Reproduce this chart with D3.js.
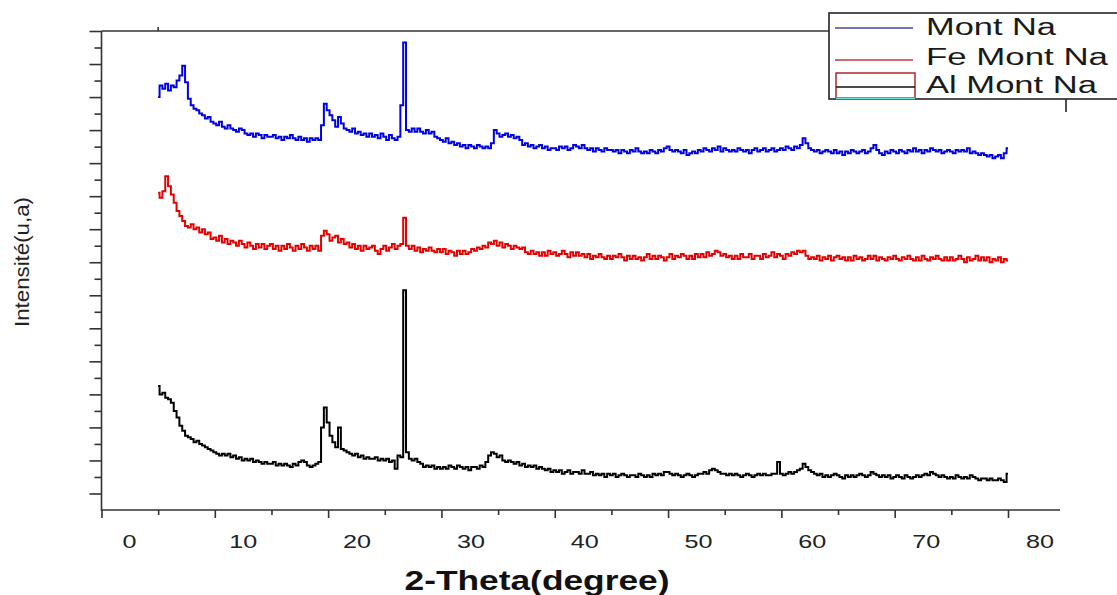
<!DOCTYPE html>
<html><head><meta charset="utf-8">
<script src="https://cdn.jsdelivr.net/npm/d3@7"></script>
<style>body{margin:0;background:#fff}svg{display:block}</style>
</head><body><svg id="c" width="1117" height="595"></svg>
<script>
// 2-theta grid of the measurement (degrees)
const twoThetaStart = 5, twoThetaStep = 0.25;
// intensities (a.u.), one value per 0.25 deg step from 5 to 80 deg
const montNa = [
250,257,255,258, 254,257,256,260, 263,269,259,249, 245,243,242,240, 239,237,238,235,
234,233,235,232, 231,233,231,230, 229,231,230,228, 227,228,226,228, 227,225,227,226,
226,227,225,226, 224,226,225,227, 225,224,226,224, 225,223,225,224, 225,224,233,246,
242,239,236,232, 238,234,231,230, 229,231,228,229, 227,228,226,228, 226,227,225,228,
226,224,227,225, 224,226,245,283, 230,229,231,229, 231,229,228,230, 228,229,226,225,
224,223,225,222, 223,221,222,220, 221,219,221,220, 219,221,220,219, 220,219,222,230,
228,226,227,228, 226,227,225,226, 224,221,222,220, 221,219,220,221, 219,220,218,219,
219,218,220,219, 220,218,219,221, 220,219,221,219, 218,219,217,219, 218,217,219,218,
218,217,218,216, 218,217,216,218, 217,219,217,216, 217,216,218,217, 216,218,217,219,
220,218,217,218, 217,216,218,215, 216,217,216,218, 217,219,218,217, 219,218,220,217,
219,218,217,218, 217,219,218,217, 218,216,218,219, 217,218,219,217, 218,219,217,218,
219,218,220,219, 218,220,219,221, 225,222,219,218, 217,218,216,217, 218,217,216,218,
216,217,215,217, 216,218,217,216, 217,218,216,217, 219,221,218,216, 215,217,216,218,
217,216,218,217, 216,218,217,219, 217,218,216,218, 217,219,218,217, 218,216,217,218,
217,216,218,217, 218,217,219,216, 217,216,215,216, 215,214,215,213, 214,215,213,216,
219];
const feMontNa = [
192,189,193,202, 196,191,186,181, 178,175,172,171, 173,170,171,168, 170,167,168,164,
165,163,166,162, 164,161,163,162, 160,163,161,159, 162,160,158,161, 159,161,158,160,
161,158,160,157, 160,158,161,159, 157,160,158,161, 159,157,160,158, 160,157,166,169,
167,163,165,166, 162,164,161,162, 159,161,158,160, 157,160,158,159, 160,157,155,158,
160,157,159,161, 158,160,161,177, 160,158,160,157, 159,156,158,157, 159,157,156,158,
156,158,155,157, 156,154,157,155, 157,155,156,158, 157,159,158,160, 159,162,161,163,
160,162,159,161, 160,158,160,159, 158,159,156,155, 157,155,156,154, 156,154,157,155,
156,154,155,157, 155,153,156,154, 156,154,155,153, 155,152,154,153, 155,153,152,154,
152,154,153,155, 153,151,154,152, 154,152,153,151, 153,155,152,154, 152,154,153,151,
153,155,152,154, 153,155,154,152, 154,152,155,153, 155,153,156,154, 155,157,156,154,
155,153,154,152, 154,152,155,153, 153,155,152,154, 154,152,155,153, 154,156,153,155,
154,152,155,154, 156,155,157,156, 157,154,152,153, 152,154,151,153, 152,154,151,153,
154,152,153,151, 153,151,154,152, 153,151,152,154, 152,154,151,153, 152,151,153,152,
154,152,151,153, 152,154,152,151, 153,151,154,152, 151,153,152,154, 152,151,153,151,
153,151,152,154, 152,150,153,151, 152,154,151,153, 151,153,150,152, 151,153,150,152,
151];
const alMontNa = [
75,70,71,68, 67,65,60,56, 51,48,45,44, 43,41,42,40, 39,38,37,36,
35,34,33,34, 33,34,32,33, 31,32,30,31, 30,31,29,30, 29,28,29,28,
28,29,27,28, 27,28,27,26, 28,27,29,30, 29,27,26,27, 28,29,50,62,
53,45,41,38, 50,37,36,35, 34,33,34,32, 33,31,32,31, 31,32,30,31,
30,31,29,30, 25,33,32,133, 35,31,30,31, 29,28,26,27, 26,27,25,26,
25,26,25,27, 26,25,27,26, 25,26,24,26, 26,25,27,26, 29,33,35,34,
32,33,30,29, 30,29,28,29, 27,28,26,27, 26,27,25,26, 25,24,25,23,
24,23,24,22, 23,24,22,23, 23,22,24,22, 22,23,21,22, 21,22,20,22,
21,22,20,21, 22,21,20,21, 21,20,22,21, 20,21,20,22, 21,22,21,23,
23,22,21,22, 21,20,21,22, 21,20,21,22, 22,23,22,24, 25,24,23,22,
22,21,22,21, 22,21,20,21, 22,21,20,21, 22,21,22,21, 21,22,22,29,
22,21,22,23, 22,23,24,25, 28,26,24,23, 22,21,22,20, 21,20,21,22,
21,20,19,21, 20,21,20,21, 22,21,20,21, 23,22,21,20, 21,20,21,19,
20,21,20,19, 21,20,19,20, 21,20,21,22, 21,23,22,21, 20,21,20,19,
20,19,21,20, 19,20,19,21, 20,19,18,19, 19,18,19,18, 18,19,18,17,
22];
const seriesNames = ["Mont Na", "Fe Mont Na", "Al Mont Na"];
const seriesColors = ["#0000e6", "#e60000", "#000000"];
const xMajorTicks = [0, 10, 20, 30, 40, 50, 60, 70, 80];
const xMinorTicks = [5, 15, 25, 35, 45, 55, 65, 75];
const yMajorTicks = [10, 30, 50, 70, 90, 110, 130, 150, 170, 190, 210, 230, 250, 270, 290];
const yMinorTicks = [20, 40, 60, 80, 100, 120, 140, 160, 180, 200, 220, 240, 260, 280];
const xLabel = "2-Theta(degree)";
const yLabel = "Intensité(u,a)";

const svg = d3.select("#c");
const x = d3.scaleLinear().domain([0, 80]).range([101.5, 1008]);
const y = d3.scaleLinear().domain([0, 290]).range([510, 31]);
const axisCol = "#333";
const font = "Liberation Sans, Arial, sans-serif";

// series
const series = [montNa, feMontNa, alMontNa];
const line = d3.line()
  .x((d, i) => x(twoThetaStart + i * twoThetaStep))
  .y(d => y(d))
  .curve(d3.curveStep);
series.forEach((s, k) => {
  svg.append("path").attr("d", line(s)).attr("fill", "none")
    .attr("stroke", seriesColors[k]).attr("stroke-width", 2)
    .attr("stroke-linejoin", "miter");
});

// x axis
function ticks(axis, size) {
  const g = svg.append("g");
  g.call(axis.tickSize(size).tickFormat(""));
  g.select(".domain").remove();
  g.selectAll(".tick line").attr("stroke", axisCol).attr("stroke-width", 1.6);
  return g;
}
ticks(d3.axisBottom(x).tickValues(xMajorTicks), 8).attr("transform", `translate(0,${y(0)})`);
ticks(d3.axisBottom(x).tickValues(xMinorTicks), 5).attr("transform", `translate(0,${y(0)})`);
svg.append("line").attr("x1", x(0)).attr("x2", x(80) + 52)
  .attr("y1", y(0)).attr("y2", y(0)).attr("stroke", axisCol).attr("stroke-width", 1.6);
// x tick labels
svg.append("g").selectAll("text").data(xMajorTicks).join("text")
  .attr("transform", d => `translate(${x(d) + 28 + d * 0.05},548) scale(1.4,1)`)
  .attr("text-anchor", "middle").attr("font-family", font)
  .attr("font-size", 18).attr("fill", "#222").text(d => d);

// y axis (ticks only)
ticks(d3.axisLeft(y).tickValues(yMajorTicks), 12).attr("transform", `translate(${x(0)},0)`);
ticks(d3.axisLeft(y).tickValues(yMinorTicks), 7).attr("transform", `translate(${x(0)},0)`);
svg.append("line").attr("x1", x(0)).attr("x2", x(0))
  .attr("y1", y(0) + 1).attr("y2", y(290)).attr("stroke", axisCol).attr("stroke-width", 1.6);
// top frame line and its tick
svg.append("line").attr("x1", x(0)).attr("x2", 829).attr("y1", y(290)).attr("y2", y(290))
  .attr("stroke", axisCol).attr("stroke-width", 1.6);
svg.append("line").attr("x1", x(5)).attr("x2", x(5)).attr("y1", y(290)).attr("y2", y(290) - 4)
  .attr("stroke", axisCol).attr("stroke-width", 1.6);

// axis titles
svg.append("text").attr("x", 537).attr("y", 590).attr("text-anchor", "middle")
  .attr("font-family", font).attr("font-weight", "bold").attr("font-size", 28)
  .attr("textLength", 265).attr("lengthAdjust", "spacingAndGlyphs")
  .attr("fill", "#111").text(xLabel);
svg.append("text").attr("transform", "translate(29,262) rotate(-90)").attr("text-anchor", "middle")
  .attr("font-family", font).attr("font-size", 20)
  .attr("textLength", 130).attr("lengthAdjust", "spacingAndGlyphs")
  .attr("fill", "#222").text(yLabel);

// legend
const lg = svg.append("g");
lg.append("rect").attr("x", 829).attr("y", 13).attr("width", 320).attr("height", 86)
  .attr("fill", "#fff").attr("stroke", "#222").attr("stroke-width", 1.6);
svg.append("line").attr("x1", 1066).attr("x2", 1066).attr("y1", 99).attr("y2", 112)
  .attr("stroke", "#222").attr("stroke-width", 1.6);
const legendLens = [130, 182, 171];
const legendBase = [35, 65, 93];
lg.append("line").attr("x1", 835).attr("x2", 913).attr("y1", 28).attr("y2", 28)
  .attr("stroke", "#4a4a96").attr("stroke-width", 1.5);
lg.append("line").attr("x1", 835).attr("x2", 913).attr("y1", 60).attr("y2", 60)
  .attr("stroke", "#c03838").attr("stroke-width", 1.5);
lg.append("rect").attr("x", 836).attr("y", 73).attr("width", 79).attr("height", 25)
  .attr("fill", "none").attr("stroke", "#b02828").attr("stroke-width", 1.5);
lg.append("line").attr("x1", 836).attr("x2", 915).attr("y1", 87).attr("y2", 87)
  .attr("stroke", "#111").attr("stroke-width", 1.5);
lg.append("line").attr("x1", 836).attr("x2", 915).attr("y1", 98.5).attr("y2", 98.5)
  .attr("stroke", "#6fe0e0").attr("stroke-width", 1.5);
seriesNames.forEach((n, i) => {
  lg.append("text").attr("x", 926).attr("y", legendBase[i])
    .attr("font-family", font).attr("font-size", 23)
    .attr("textLength", legendLens[i]).attr("lengthAdjust", "spacingAndGlyphs")
    .attr("fill", "#1a1a1a").text(n);
});
</script>
</body></html>
